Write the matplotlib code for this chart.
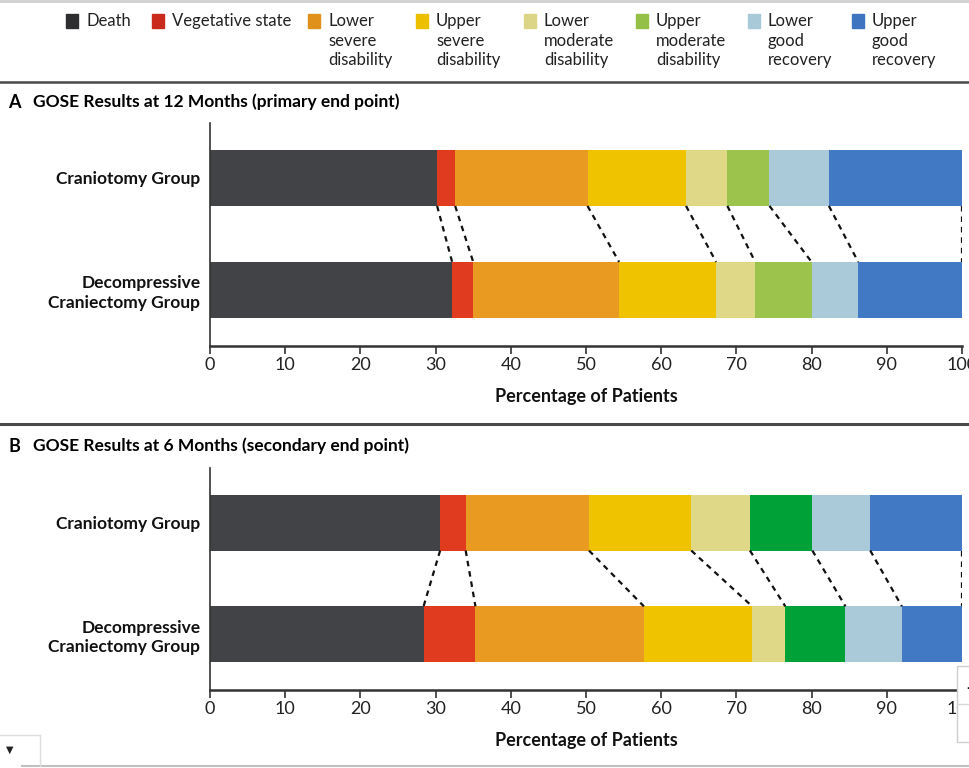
import numpy as np
import matplotlib.pyplot as plt
from matplotlib.patches import Rectangle

# GOSE categories (legend order = stacking order)
categories = ["Death", "Vegetative state", "Lower\nsevere\ndisability", "Upper\nsevere\ndisability",
              "Lower\nmoderate\ndisability", "Upper\nmoderate\ndisability", "Lower\ngood\nrecovery",
              "Upper\ngood\nrecovery"]
groups = ["Craniotomy Group", "Decompressive\nCraniectomy Group"]

# percentages
a_craniotomy = [30.2, 2.4, 17.6, 13.1, 5.5, 5.6, 7.9, 17.7]
a_decompressive = [32.2, 2.8, 19.4, 12.9, 5.2, 7.5, 6.2, 13.8]
b_craniotomy = [30.6, 3.4, 16.4, 13.6, 7.8, 8.3, 7.7, 12.2]
b_decompressive = [28.4, 6.9, 22.4, 14.4, 4.4, 8.0, 7.5, 8.0]

xticks = [0, 10, 20, 30, 40, 50, 60, 70, 80, 90, 100]

colors_a = ["#424347", "#e03b1f", "#e99a20", "#efc300", "#dfd886", "#9cc44c", "#aacad9", "#4279c4"]
colors_b = ["#424347", "#e03b1f", "#e99a20", "#efc300", "#dfd886", "#00a136", "#aacad9", "#4279c4"]
legend_colors = ["#2e2e30", "#c92a1c", "#e0911b", "#ecbf00", "#dcd588", "#94c047", "#a8c9d8", "#3f74c0"]

W, H = 970, 768
font = ["Lato", "DejaVu Sans"]

fig = plt.figure(figsize=(W / 100, H / 100), dpi=100)


def fx(px):
    return px / W


def fy(py):
    return 1 - py / H


# legend across the top
sq_x = [66, 152, 308, 416, 524, 636, 748, 852]
for i, lab in enumerate(categories):
    fig.patches.append(Rectangle((fx(sq_x[i]), fy(28)), fx(12), 14 / H, color=legend_colors[i],
                                 transform=fig.transFigure, figure=fig))
    fig.text(fx(sq_x[i] + 20), fy(13), lab, family=font, fontsize=12, va="top", ha="left",
             linespacing=1.28, color="#222222")

# separators
fig.add_artist(plt.Line2D([0, 1], [fy(1), fy(1)], color="#d0d0d0", lw=2))
fig.add_artist(plt.Line2D([0, 1], [fy(82), fy(82)], color="#4a4a4a", lw=1.8))
fig.add_artist(plt.Line2D([0, 1], [fy(424), fy(424)], color="#4a4a4a", lw=2.2))


def panel(top_px, bottom_px, title_y, letter, title, top_vals, bot_vals, colors):
    ax = fig.add_axes([fx(210), fy(bottom_px), fx(962 - 210), (bottom_px - top_px) / H])
    for y, vals in zip([1, 0], [top_vals, bot_vals]):
        left = np.concatenate([[0], np.cumsum(vals)[:-1]])
        ax.barh(y, vals, left=left, height=0.5, color=colors, edgecolor="none")
    # dashed connectors between matching segment ends
    top_ends = np.cumsum(top_vals)
    bot_ends = np.cumsum(bot_vals)
    for t, b in zip(top_ends[:-1], bot_ends[:-1]):
        ax.plot([t, b], [0.75, 0.25], ls=(0, (2.5, 2.2)), color="#111111", lw=1.6)
    ax.plot([100, 100], [0.75, 0.25], ls=(0, (2.5, 2.2)), color="#111111", lw=1.6)

    ax.set_xlim(0, 100)
    ax.set_ylim(-0.5, 1.49)
    for s in ["top", "right"]:
        ax.spines[s].set_visible(False)
    ax.spines["left"].set_color("#333333")
    ax.spines["bottom"].set_color("#333333")
    ax.spines["left"].set_linewidth(1.2)
    ax.spines["bottom"].set_linewidth(1.8)
    ax.set_xticks(xticks)
    ax.set_xticklabels([str(t) for t in xticks], family=font, fontsize=13, color="#222222")
    ax.tick_params(axis="x", direction="out", length=6, width=1.2, color="#333333", pad=2)
    ax.set_yticks([1, 0])
    ax.set_yticklabels(groups, fontsize=12.5, fontweight="bold", family=font, color="#111111",
                       multialignment="right", linespacing=1.25)
    ax.tick_params(axis="y", length=0, pad=7)
    ax.set_xlabel("Percentage of Patients", family=font, fontsize=13, fontweight="bold",
                  color="#111111", labelpad=11)
    fig.text(fx(8), fy(title_y), letter, family=font, fontsize=13, fontweight="bold", va="center")
    fig.text(fx(33), fy(title_y), title, family=font, fontsize=12.5, fontweight="bold", va="center")
    return ax


panel(123, 346, 102, "A", "GOSE Results at 12 Months (primary end point)",
      a_craniotomy, a_decompressive, colors_a)
panel(468, 690, 446, "B", "GOSE Results at 6 Months (secondary end point)",
      b_craniotomy, b_decompressive, colors_b)

# screenshot widgets at the bottom corners
fig.patches.append(Rectangle((fx(957), fy(742)), fx(20), 76 / H, facecolor="white", edgecolor="#cfcfcf",
                             lw=1, transform=fig.transFigure, figure=fig))
fig.add_artist(plt.Line2D([fx(957), 1], [fy(704), fy(704)], color="#d8d8d8", lw=1))
fig.text(fx(966), fy(688), "-", fontsize=10, fontweight="bold", va="center", color="#111111")
fig.add_artist(plt.Line2D([fx(22), 1], [fy(766), fy(766)], color="#c0c0c0", lw=1.5))
fig.add_artist(plt.Line2D([fx(40), fx(40)], [fy(766), fy(735)], color="#dddddd", lw=1))
fig.add_artist(plt.Line2D([0, fx(40)], [fy(735), fy(735)], color="#dddddd", lw=1))
fig.text(fx(10), fy(750), "\u25bc", fontsize=7, va="center", ha="center", color="#222222")

fig.savefig("out.png", dpi=100)
